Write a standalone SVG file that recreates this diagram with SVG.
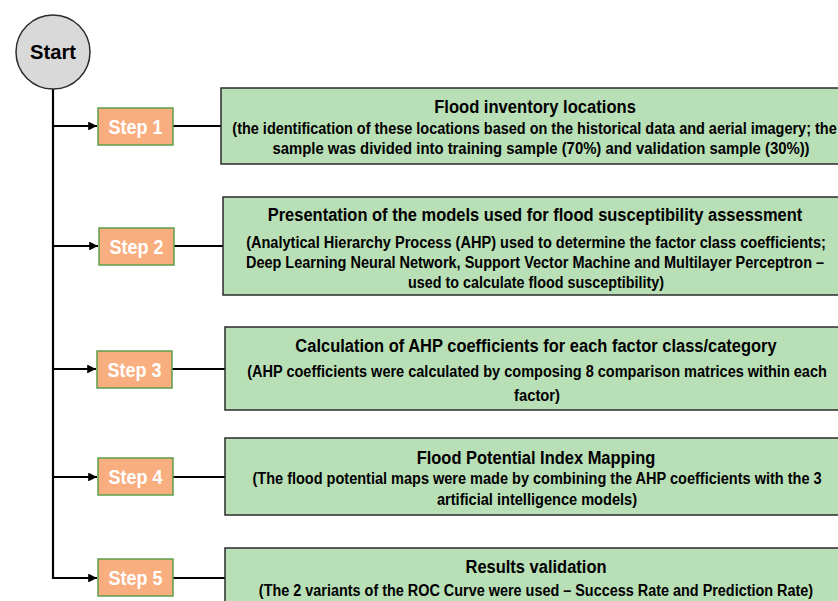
<svg xmlns="http://www.w3.org/2000/svg" width="838" height="601" viewBox="0 0 838 601">
<defs>
<style>
.box{fill:#b9dfb6;stroke:#2b2b2b;stroke-width:1.5}
.step{fill:#f9ae80;stroke:#5c9e4b;stroke-width:1.5}
.st{font-family:"Liberation Sans",Arial,sans-serif;font-weight:bold;font-size:20px;fill:#ffffff;text-anchor:middle}
.t{font-family:"Liberation Sans",Arial,sans-serif;font-weight:bold;font-size:18.5px;fill:#000;text-anchor:middle}
.b{font-family:"Liberation Sans",Arial,sans-serif;font-weight:bold;font-size:16px;fill:#000;text-anchor:middle}
.ln{stroke:#000;stroke-width:2.2;fill:none}
</style>
<marker id="ah" viewBox="0 0 10 10" refX="10" refY="5" markerWidth="4" markerHeight="4" orient="auto" markerUnits="strokeWidth">
<path d="M0,0 L10,5 L0,10 z" fill="#000"/>
</marker>
</defs>
<rect width="838" height="601" fill="#ffffff"/>
<g id="connectors">
<path class="ln" d="M53,89 V578 H97" marker-end="url(#ah)"/>
<path class="ln" d="M53,126 H97" marker-end="url(#ah)"/>
<path class="ln" d="M53,246 H98" marker-end="url(#ah)"/>
<path class="ln" d="M53,369 H96" marker-end="url(#ah)"/>
<path class="ln" d="M53,477 H97" marker-end="url(#ah)"/>
<path class="ln" d="M173,126 H221"/>
<path class="ln" d="M174,246 H223"/>
<path class="ln" d="M172,369 H225"/>
<path class="ln" d="M173,477 H225"/>
<path class="ln" d="M173,578 H225"/>
</g>
<g id="start">
<circle cx="53" cy="52" r="37" fill="#d9d9d9" stroke="#2b2b2b" stroke-width="1.5"/>
<text transform="translate(53,59) scale(0.85,1)" font-family="'Liberation Sans',Arial,sans-serif" font-weight="bold" font-size="20" text-anchor="middle" textLength="54" lengthAdjust="spacingAndGlyphs">Start</text>
</g>
<g id="step1">
<rect class="step" x="98" y="108" width="75" height="37"/>
<text class="st" transform="translate(135.5,133.5) scale(0.85,1)" textLength="63.5" lengthAdjust="spacingAndGlyphs">Step 1</text>
</g>
<g id="step2">
<rect class="step" x="99" y="228" width="75" height="37"/>
<text class="st" transform="translate(136.5,253.5) scale(0.85,1)" textLength="63.5" lengthAdjust="spacingAndGlyphs">Step 2</text>
</g>
<g id="step3">
<rect class="step" x="97" y="351" width="75" height="37"/>
<text class="st" transform="translate(134.5,376.5) scale(0.85,1)" textLength="63.5" lengthAdjust="spacingAndGlyphs">Step 3</text>
</g>
<g id="step4">
<rect class="step" x="98" y="458" width="75" height="37"/>
<text class="st" transform="translate(135.5,483.5) scale(0.85,1)" textLength="63.5" lengthAdjust="spacingAndGlyphs">Step 4</text>
</g>
<g id="step5">
<rect class="step" x="98" y="559" width="75" height="37"/>
<text class="st" transform="translate(135.5,584.5) scale(0.85,1)" textLength="63.5" lengthAdjust="spacingAndGlyphs">Step 5</text>
</g>
<g id="box1">
<rect class="box" x="221" y="88" width="630" height="76"/>
<text class="t" transform="translate(535,112.5) scale(0.82,1)" textLength="246" lengthAdjust="spacingAndGlyphs">Flood inventory locations</text>
<text class="b" transform="translate(534.5,134) scale(0.82,1)" textLength="737" lengthAdjust="spacingAndGlyphs">(the identification of these locations based on the historical data and aerial imagery; the</text>
<text class="b" transform="translate(541,153.5) scale(0.82,1)" textLength="655" lengthAdjust="spacingAndGlyphs">sample was divided into training sample (70%) and validation sample (30%))</text>
</g>
<g id="box2">
<rect class="box" x="223" y="197" width="628" height="98"/>
<text class="t" transform="translate(535,221) scale(0.82,1)" textLength="652" lengthAdjust="spacingAndGlyphs">Presentation of the models used for flood susceptibility assessment</text>
<text class="b" transform="translate(536,248) scale(0.82,1)" textLength="707" lengthAdjust="spacingAndGlyphs">(Analytical Hierarchy Process (AHP) used to determine the factor class coefficients;</text>
<text class="b" transform="translate(535,268) scale(0.82,1)" textLength="705" lengthAdjust="spacingAndGlyphs">Deep Learning Neural Network, Support Vector Machine and Multilayer Perceptron –</text>
<text class="b" transform="translate(536,288) scale(0.82,1)" textLength="312" lengthAdjust="spacingAndGlyphs">used to calculate flood susceptibility)</text>
</g>
<g id="box3">
<rect class="box" x="225" y="327" width="626" height="83"/>
<text class="t" transform="translate(536,352) scale(0.82,1)" textLength="587" lengthAdjust="spacingAndGlyphs">Calculation of AHP coefficients for each factor class/category</text>
<text class="b" transform="translate(537,377) scale(0.82,1)" textLength="707" lengthAdjust="spacingAndGlyphs">(AHP coefficients were calculated by composing 8 comparison matrices within each</text>
<text class="b" transform="translate(537,401) scale(0.82,1)" textLength="56" lengthAdjust="spacingAndGlyphs">factor)</text>
</g>
<g id="box4">
<rect class="box" x="225" y="438" width="626" height="77"/>
<text class="t" transform="translate(536,464) scale(0.82,1)" textLength="291" lengthAdjust="spacingAndGlyphs">Flood Potential Index Mapping</text>
<text class="b" transform="translate(537,484) scale(0.82,1)" textLength="694" lengthAdjust="spacingAndGlyphs">(The flood potential maps were made by combining the AHP coefficients with the 3</text>
<text class="b" transform="translate(537,504.5) scale(0.82,1)" textLength="244" lengthAdjust="spacingAndGlyphs">artificial intelligence models)</text>
</g>
<g id="box5">
<rect class="box" x="225" y="548" width="626" height="70"/>
<text class="t" transform="translate(536,573) scale(0.82,1)" textLength="172" lengthAdjust="spacingAndGlyphs">Results validation</text>
<text class="b" transform="translate(536,596) scale(0.82,1)" textLength="676" lengthAdjust="spacingAndGlyphs">(The 2 variants of the ROC Curve were used – Success Rate and Prediction Rate)</text>
</g>
</svg>
